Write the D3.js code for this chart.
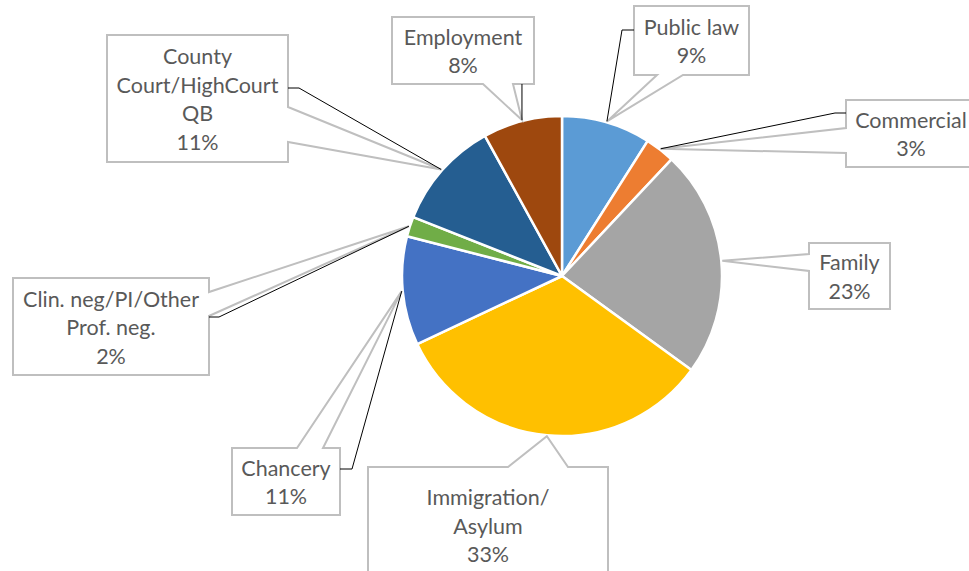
<!DOCTYPE html>
<html>
<head>
<meta charset="utf-8">
<script src="https://cdn.jsdelivr.net/npm/d3@7"></script>
<style>
  html, body { margin: 0; padding: 0; background: #fff; }
  svg { display: block; }
</style>
</head>
<body>
<svg id="chart" width="969" height="571"></svg>
<script>
// ---- data ----
const categories = ["Public law", "Commercial", "Family", "Immigration/Asylum", "Chancery",
  "Clin. neg/PI/Other Prof. neg.", "County Court/HighCourt QB", "Employment"];
const values = [9, 3, 23, 33, 11, 2, 11, 8];
const labelLines = [
  ["Public law"], ["Commercial"], ["Family"], ["Immigration/", "Asylum"], ["Chancery"],
  ["Clin. neg/PI/Other", "Prof. neg."], ["County", "Court/HighCourt", "QB"], ["Employment"]
];
const colors = ["#5B9BD5", "#ED7D31", "#A5A5A5", "#FFC000", "#4472C4", "#70AD47", "#255E91", "#9E480E"];

// ---- layout (callout boxes) ----
const layout = [
  { x: 634, y: 6,   w: 115, h: 69,  side: "bottom", a: 657, b: 683, leader: [[634, 30], [622, 30]] },
  { x: 846, y: 100, w: 130, h: 67,  side: "left",   a: 128, b: 153, leader: [[846, 113], [835, 113]] },
  { x: 809, y: 243, w: 81,  h: 66,  side: "left",   a: 254, b: 271, leader: null },
  { x: 368, y: 467, w: 240, h: 130, side: "top",    a: 508, b: 568, leader: null, cy: 525 },
  { x: 232, y: 448, w: 108, h: 67,  side: "top",    a: 297, b: 323, leader: [[340, 469], [352, 469]] },
  { x: 13,  y: 278, w: 196, h: 97,  side: "right",  a: 292, b: 316, leader: [[209, 317], [219, 317]] },
  { x: 107, y: 35,  w: 181, h: 127, side: "right",  a: 107, b: 142, leader: [[288, 88], [299, 88]] },
  { x: 392, y: 17,  w: 142, h: 67,  side: "bottom", a: 483, b: 513, leader: "vertical" }
];

const cx = 562, cy = 276, R = 160;
const fontSize = 21.5, lineH = 28.5;

const svg = d3.select("#chart");
const total = d3.sum(values);
const pie = d3.pie().sort(null).value(d => d)(values);
const arc = d3.arc().innerRadius(0).outerRadius(R);

const g = svg.append("g").attr("transform", `translate(${cx},${cy})`);
g.selectAll("path.slice").data(pie).join("path")
  .attr("class", "slice")
  .attr("d", arc)
  .attr("fill", (d, i) => colors[i])
  .attr("stroke", "#fff")
  .attr("stroke-width", 2.5)
  .attr("stroke-linejoin", "round");

function tipOf(d) {
  const a = (d.startAngle + d.endAngle) / 2;
  return [cx + Math.sin(a) * (R + 1), cy - Math.cos(a) * (R + 1)];
}

function calloutPath(L, tip) {
  const x0 = L.x, y0 = L.y, x1 = L.x + L.w, y1 = L.y + L.h;
  let pts;
  if (L.side === "bottom") {
    pts = [[x0, y0], [x1, y0], [x1, y1], [L.b, y1], tip, [L.a, y1], [x0, y1]];
  } else if (L.side === "top") {
    pts = [[x0, y0], [L.a, y0], tip, [L.b, y0], [x1, y0], [x1, y1], [x0, y1]];
  } else if (L.side === "left") {
    pts = [[x0, y0], [x1, y0], [x1, y1], [x0, y1], [x0, L.b], tip, [x0, L.a]];
  } else {
    pts = [[x0, y0], [x1, y0], [x1, L.a], tip, [x1, L.b], [x1, y1], [x0, y1]];
  }
  return d3.line()(pts) + "Z";
}

const labels = svg.append("g");
pie.forEach((d, i) => {
  const L = layout[i];
  const tip = tipOf(d);
  const grp = labels.append("g");
  grp.append("path")
    .attr("d", calloutPath(L, tip))
    .attr("fill", "#fff")
    .attr("stroke", "#BFBFBF")
    .attr("stroke-width", 2)
    .attr("stroke-linejoin", "miter");
  if (L.leader) {
    let pts;
    if (L.leader === "vertical") pts = [[tip[0], L.y + L.h], tip];
    else pts = [...L.leader, tip];
    grp.append("path")
      .attr("d", d3.line()(pts))
      .attr("fill", "none")
      .attr("stroke", "#000")
      .attr("stroke-width", 1);
  }
  const pct = Math.round(values[i] / total * 100) + "%";
  const lines = [...labelLines[i], pct];
  const midX = L.x + L.w / 2;
  const midY = L.cy !== undefined ? L.cy : L.y + L.h / 2;
  const t = grp.append("text")
    .attr("text-anchor", "middle")
    .attr("font-family", "Lato, 'Open Sans', sans-serif")
    .attr("font-size", fontSize)
    .attr("fill", "#595959");
  lines.forEach((s, k) => {
    t.append("tspan")
      .attr("x", midX)
      .attr("y", midY + (k - (lines.length - 1) / 2) * lineH + 8.5)
      .text(s);
  });
});
</script>
</body>
</html>
